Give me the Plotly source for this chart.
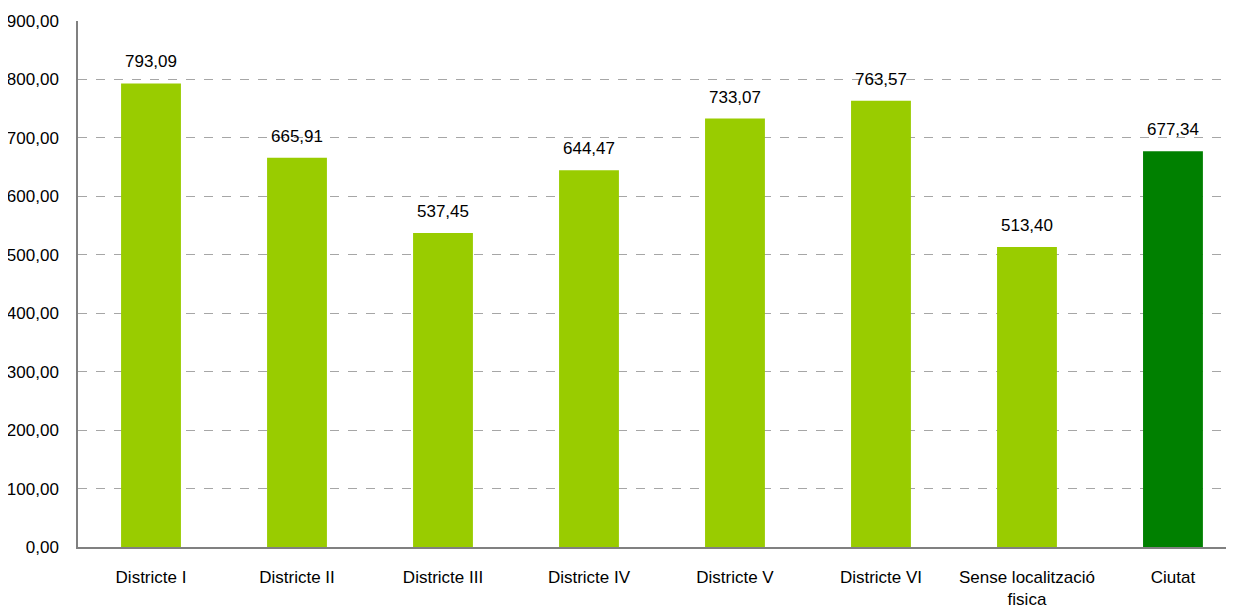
import plotly.graph_objects as go

CATEGORIES = ["Districte I", "Districte II", "Districte III", "Districte IV", "Districte V",
              "Districte VI", "Sense localització<br>fisica", "Ciutat"]
VALUES = [793.09, 665.91, 537.45, 644.47, 733.07, 763.57, 513.40, 677.34]
Y_TICKS = [0, 100, 200, 300, 400, 500, 600, 700, 800, 900]

LIGHT = "#99cc00"
DARK = "#008000"
FONT = "Liberation Sans, Arial"

colors = [DARK if c == "Ciutat" else LIGHT for c in CATEGORIES]
xs = list(range(len(CATEGORIES)))

fig = go.Figure(go.Bar(
    x=xs, y=VALUES,
    marker_color=colors,
    marker_line_width=0,
    width=0.41,
    hoverinfo="skip",
))

# etiquetes de valor per sobre de cada barra
for x, v in zip(xs, VALUES):
    fig.add_annotation(
        x=x, y=v, text=f"{v:.2f}".replace(".", ","),
        showarrow=False, yanchor="bottom", yshift=10,
        font=dict(size=17, color="black", family=FONT),
    )

# la pàgina té 8px de marge al body, per això la figura és una mica més petita
fig.update_layout(
    width=1226, height=603,
    margin=dict(l=70, r=0, t=13, b=64),
    plot_bgcolor="white", paper_bgcolor="white",
    separators=",.",
    showlegend=False,
    font=dict(family=FONT, size=17, color="black"),
    xaxis=dict(
        tickmode="array", tickvals=xs, ticktext=CATEGORIES,
        range=[-0.5, 7.418], showgrid=False, automargin=False,
        showline=True, linecolor="#808080", linewidth=1.5,
        ticks="", ticklabelstandoff=14,
    ),
    yaxis=dict(
        range=[0, 900], tickvals=Y_TICKS, tickformat=".2f", automargin=False,
        showgrid=True, gridcolor="#a6a6a6", griddash="dash", gridwidth=1,
        showline=True, linecolor="#808080", linewidth=1.5,
        zeroline=False, ticks="", ticklabelstandoff=14,
    ),
)

fig.write_html("out.html")
